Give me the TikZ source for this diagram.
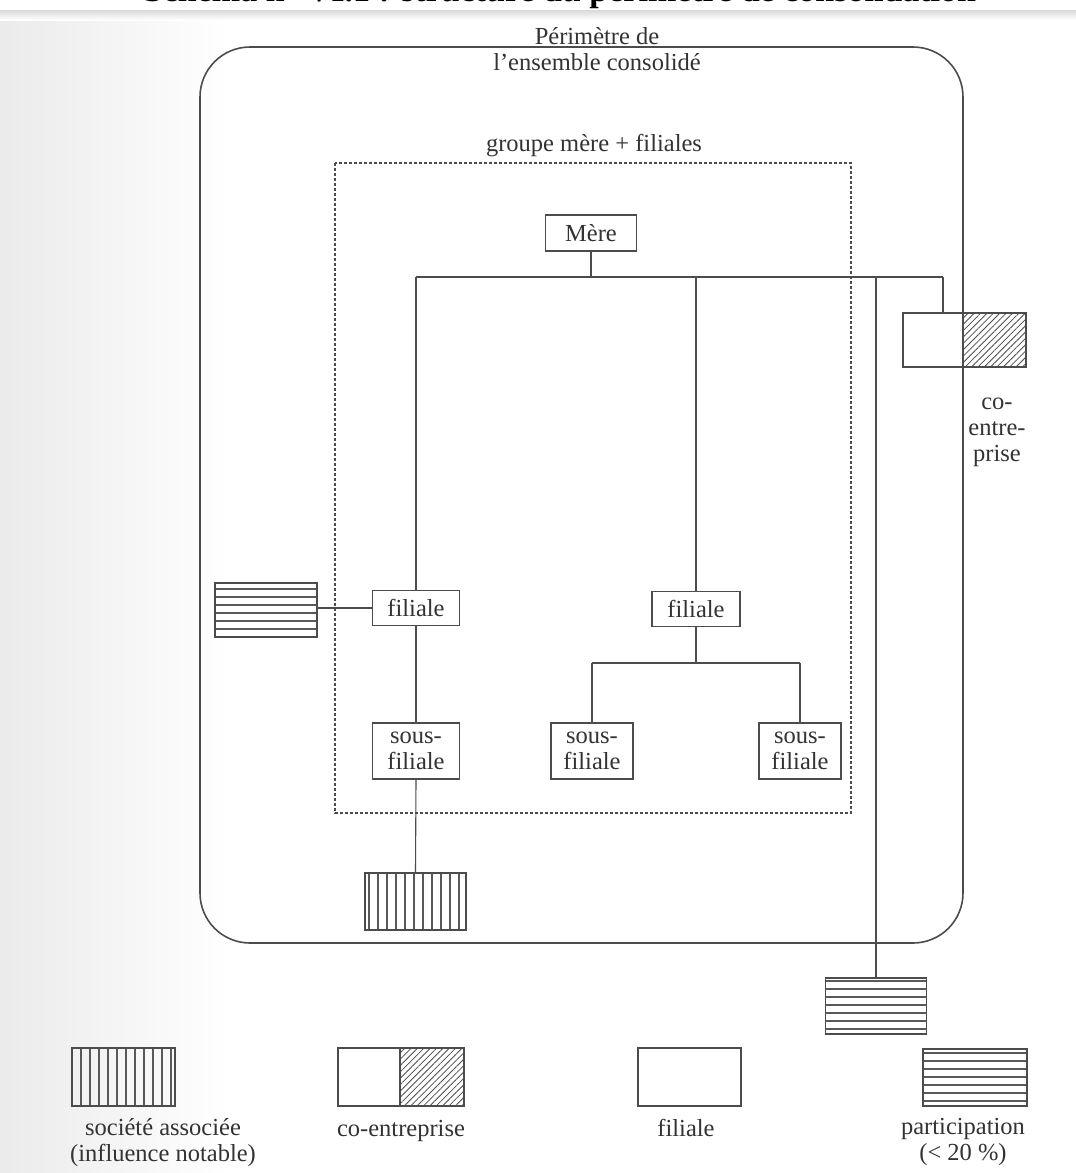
\documentclass[tikz,border=0pt]{standalone}
\usepackage{fontspec}
\setmainfont{Liberation Serif}
\usetikzlibrary{positioning}
\usetikzlibrary{patterns.meta}
\tikzset{every picture/.style={
    every node/.style={font=\fontsize{24.5}{26}\selectfont, text=black!80},
}}
\tikzset{box/.style = {draw=black!70, line width=1.4pt, fill=white,
                       inner sep=0, align=center}}
\tikzset{link/.style = {draw=black!70, line width=1.1pt}}
\tikzset{hatchv/.style = {box, pattern={Lines[angle=90,distance=9pt,line width=1.1pt]},
                          pattern color=black!65}}
\tikzset{hatchh/.style = {box, pattern={Lines[angle=0,distance=8pt,line width=1.2pt]},
                          pattern color=black!65}}
\tikzset{hatchd/.style = {box, pattern={Lines[angle=45,distance=4.5pt,line width=0.8pt]},
                          pattern color=black!70}}
\tikzset{caption/.style = {align=center, inner sep=0}}
\tikzset{keylabel/.style = {caption, anchor=north, execute at begin node=\strut}}

\begin{document}
\begin{tikzpicture}[x=1pt, y=-1pt]
  \useasboundingbox (0,0) rectangle (1076,1173);
  \clip (0,0) rectangle (1076,1173);
  % page background
  \fill[white] (0,0) rectangle (1076,1173);
  \shade[left color=black!8, right color=white] (0,14) rectangle (230,1173);
  \shade[top color=black!15, bottom color=white] (0,10) rectangle (1076,20);
  \node[font=\fontsize{34}{36}\selectfont\bfseries, text=black, anchor=base]
    (title) at (560,1) {Schéma n° VI.1 : structure du périmètre de consolidation};

  % frames
  \draw[black!70, line width=1.6pt, rounded corners=50] (200,47) rectangle (963,943);
  \draw[black!70, line width=1.1pt, dashed, dash pattern=on 3pt off 2pt]
    (335,163) rectangle (851,813);
  \node[caption] (perim) at (597,49) {Périmètre de\\l’ensemble consolidé};
  \node[caption] (grp) at (594,146) {groupe mère + filiales};

  % companies
  \node[box, minimum width=91, minimum height=36] (mere) at (591,233) {Mère};
  \node[box, minimum width=87, minimum height=35] (fil1) at (416,608) {filiale};
  \node[box, minimum width=88, minimum height=35] (fil2) at (696,609) {filiale};
  \node[box, minimum width=87, minimum height=56] (sf1) at (416,751) {sous-\\filiale};
  \node[box, minimum width=82, minimum height=56] (sf2) at (592,751) {sous-\\filiale};
  \node[box, minimum width=82, minimum height=56] (sf3) at (800,751) {sous-\\filiale};
  \node[box, minimum width=60, minimum height=54] (coL) at (933,340) {};
  \node[hatchd, minimum width=63, minimum height=54] (coR) at (994.5,340) {};
  \node[caption] (colab) at (997,432) {co-\\entre-\\prise};
  \node[hatchh, minimum width=102, minimum height=54] (part1) at (266,610) {};
  \node[hatchv, minimum width=101, minimum height=57] (assoc) at (415.5,901.5) {};
  \node[hatchh, minimum width=101, minimum height=56] (part2) at (876,1006) {};
  \draw[black!70, line width=1.6pt] (963,313) -- (963,367);

  % links
  \coordinate (bus) at (591,277);
  \coordinate (coj) at (943,277);
  \coordinate (fork) at (696,663);
  \draw[link] (mere.south) -- (bus);
  \draw[link] (fil1.north |- bus) -- (coj);
  \draw[link] (fil1.north |- bus) -- (fil1.north);
  \draw[link] (fil2.north |- bus) -- (fil2.north);
  \draw[link] (coj) -- (coj |- coL.north);
  \draw[link] (part2.north |- bus) -- (part2.north);
  \draw[link] (part1.east |- fil1.west) -- (fil1.west);
  \draw[link] (fil1.south) -- (sf1.north);
  \draw[link] (sf1.south) -- (assoc.north);
  \draw[link] (fil2.south) -- (fork);
  \draw[link] (sf2.north |- fork) -- (sf3.north |- fork);
  \draw[link] (sf2.north |- fork) -- (sf2.north);
  \draw[link] (sf3.north |- fork) -- (sf3.north);

  % legend
  \node[hatchv, minimum width=103, minimum height=58] (keyassoc) at (123.5,1077) {};
  \node[box, minimum width=62, minimum height=58] (keycoL) at (369,1077) {};
  \node[hatchd, minimum width=64, minimum height=58] (keycoR) at (432,1077) {};
  \node[box, minimum width=103, minimum height=58] (keyfil) at (689.5,1077) {};
  \node[hatchh, minimum width=104, minimum height=57] (keypart) at (975,1077.5) {};
  \node[keylabel] (labassoc) at (163,1118) {société associée\\(influence notable)};
  \node[keylabel] (labco) at (401,1118) {co-entreprise};
  \node[keylabel] (labfil) at (686,1118) {filiale};
  \node[keylabel] (labpart) at (963,1118) {participation\\(< 20 \%)};
\end{tikzpicture}
\end{document}
